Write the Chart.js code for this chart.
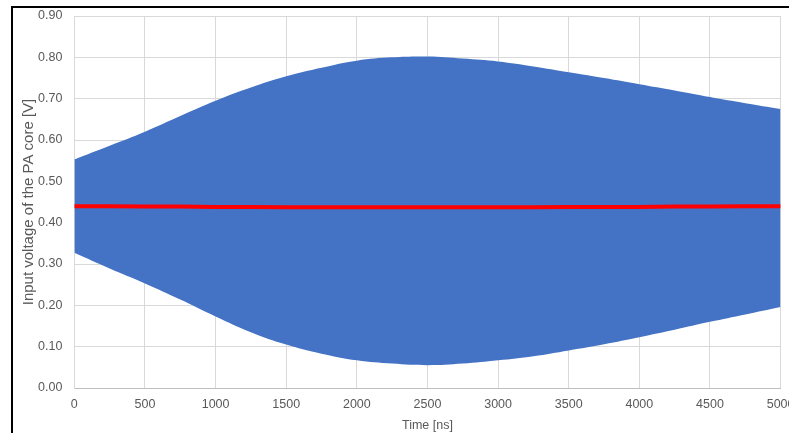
<!DOCTYPE html>
<html>
<head>
<meta charset="utf-8">
<script src="https://cdn.jsdelivr.net/npm/chart.js@4/dist/chart.umd.min.js"></script>
<style>
  html, body { margin: 0; padding: 0; background: #fff; overflow: hidden; }
  #wrap { position: absolute; left: 0; top: 0; width: 804px; height: 433px; }
  #frame { position: absolute; left: 11px; top: 6px; width: 800px; height: 440px;
           border-top: 2px solid #000; border-left: 2px solid #000; pointer-events: none; }
</style>
</head>
<body>
<div id="wrap"><canvas id="c" width="804" height="433"></canvas></div>
<div id="frame"></div>
<script>
// Time axis samples [ns]
const timeNs = [0, 250, 500, 750, 1000, 1250, 1500, 1750, 2000, 2250, 2500,
                2750, 3000, 3250, 3500, 3750, 4000, 4250, 4500, 4750, 5000];
// Upper and lower envelope of the RF input voltage [V]
const envelopeUpper = [0.553, 0.586, 0.620, 0.658, 0.695, 0.727, 0.754, 0.775, 0.792, 0.800, 0.802,
                       0.797, 0.790, 0.778, 0.764, 0.750, 0.735, 0.720, 0.704, 0.689, 0.675];
const envelopeLower = [0.327, 0.289, 0.253, 0.214, 0.173, 0.135, 0.105, 0.083, 0.067, 0.059, 0.055,
                       0.059, 0.067, 0.077, 0.091, 0.106, 0.123, 0.141, 0.160, 0.178, 0.196];
// DC (average) level of the input voltage [V]
const dcLevel = [0.440, 0.440, 0.439, 0.439, 0.438, 0.438, 0.437, 0.437, 0.437, 0.437, 0.437,
                 0.437, 0.437, 0.437, 0.438, 0.438, 0.438, 0.439, 0.439, 0.440, 0.440];
const xTitle = 'Time [ns]';
const yTitle = 'Input voltage of the PA core [V]';

const pts = arr => arr.map((v, i) => ({ x: timeNs[i], y: v }));

const FONT = 'Liberation Sans, Arial, sans-serif';
const GREY = '#595959';

new Chart(document.getElementById('c'), {
  type: 'line',
  data: {
    datasets: [
      {
        label: 'upper', data: pts(envelopeUpper),
        borderWidth: 0, pointRadius: 0, tension: 0.4,
        backgroundColor: '#4472C4', borderColor: '#4472C4', fill: '+1', order: 2
      },
      {
        label: 'lower', data: pts(envelopeLower),
        borderWidth: 0, pointRadius: 0, tension: 0.4,
        backgroundColor: '#4472C4', borderColor: '#4472C4', fill: false, order: 2
      },
      {
        label: 'dc', data: pts(dcLevel),
        borderWidth: 4, pointRadius: 0, tension: 0,
        borderColor: '#FF0000', fill: false, order: 1
      }
    ]
  },
  options: {
    responsive: false,
    animation: false,
    devicePixelRatio: 1,
    layout: { padding: { left: 15.5, top: 10, right: 0, bottom: 1 } },
    plugins: { legend: { display: false }, tooltip: { enabled: false } },
    scales: {
      x: {
        type: 'linear', min: 0, max: 5000,
        ticks: { stepSize: 500, color: GREY, font: { family: FONT, size: 12.5 }, padding: 9.5, maxRotation: 0,
                 callback: v => String(v) },
        grid: { color: '#d9d9d9', drawTicks: false },
        border: { color: '#bfbfbf' },
        title: { display: true, text: xTitle, color: GREY, font: { family: FONT, size: 12.5 }, padding: { top: -3.5, bottom: -1.5 } }
      },
      y: {
        min: 0, max: 0.9,
        ticks: { stepSize: 0.1, color: GREY, font: { family: FONT, size: 12.5 }, padding: 8.5,
                 callback: v => Number(v).toFixed(2) },
        grid: { color: '#d9d9d9', drawTicks: true, tickLength: 3.5, tickColor: 'rgba(0,0,0,0)' },
        border: { color: '#d9d9d9' },
        title: { display: true, text: yTitle, color: GREY, font: { family: FONT, size: 15 }, padding: { top: 4, bottom: -8 } }
      }
    }
  }
});
</script>
</body>
</html>
